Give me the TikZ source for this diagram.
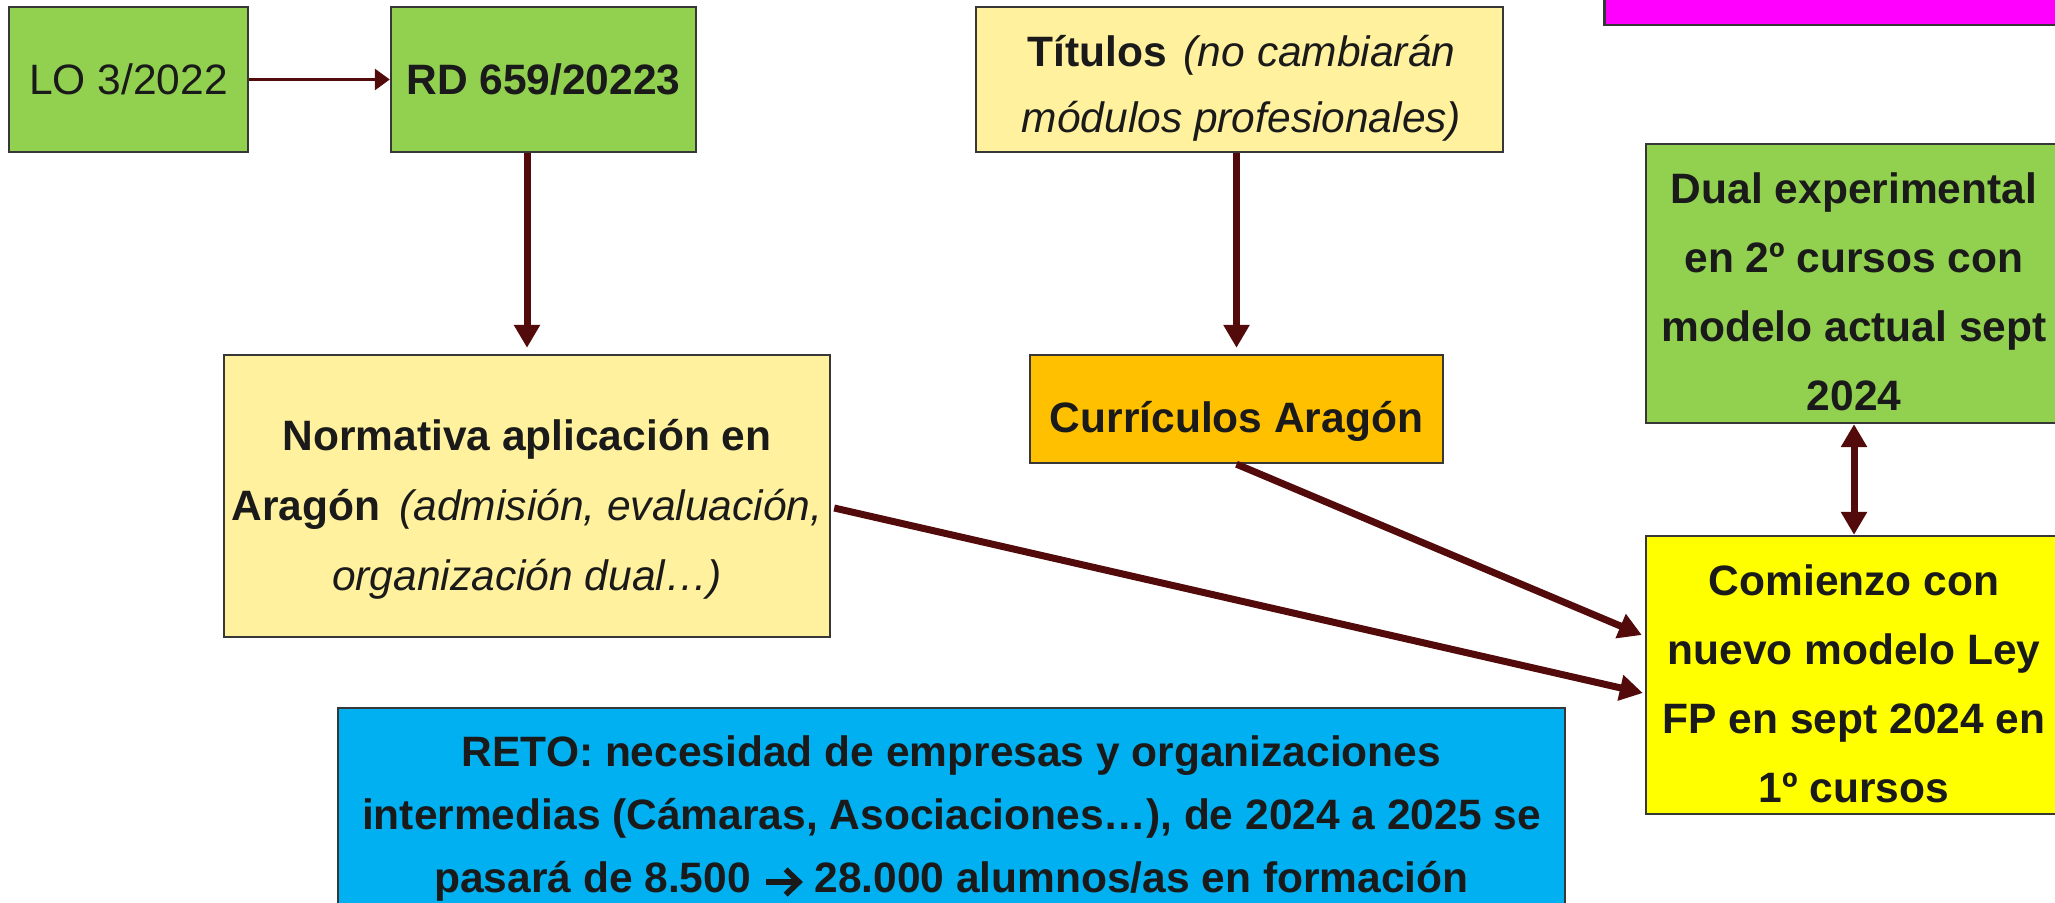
\documentclass[tikz,border=0pt]{standalone}
\usepackage{fontspec}
\setmainfont{Liberation Sans}
\usetikzlibrary{arrows.meta,calc}
\definecolor{grn}{HTML}{92D050}
\definecolor{lyel}{RGB}{255,241,158}
\definecolor{orng}{HTML}{FFC000}
\definecolor{yel}{HTML}{FFFF00}
\definecolor{blu}{HTML}{00B0F0}
\definecolor{mag}{HTML}{FF00FF}
\definecolor{arrc}{RGB}{82,10,10}
\definecolor{bordc}{RGB}{55,55,55}
\definecolor{txtc}{RGB}{26,26,26}
\newcommand{\bigarrow}{\tikz[baseline=0pt,x=1pt,y=1pt]{\draw[draw=txtc,line width=2.8pt] (0,5.5) -- (15,5.5); \draw[draw=txtc,line width=2.8pt,line join=miter,miter limit=10] (9.6,11.8) -- (16.2,5.5) -- (9.6,-0.8);}}
\begin{document}
\begin{tikzpicture}[x=0.5pt,y=-0.5pt,
  box/.style={draw=bordc, line width=1.2pt, inner sep=0pt},
  txt/.style={align=center, text=txtc, inner sep=0pt},
  fs/.style={font=\fontsize{21.25}{#1}\selectfont},
  conn/.style={draw=arrc, line width=3.5pt, -{Triangle[length=11.5pt,width=12.5pt]}},
  dconn/.style={draw=arrc, line width=3.5pt, {Triangle[length=11.5pt,width=12.5pt]}-{Triangle[length=11.5pt,width=12.5pt]}},
  connthin/.style={draw=arrc, line width=1.5pt, -{Triangle[length=7.5pt,width=10.5pt]}}]
\useasboundingbox (0,0) rectangle (2055,903);
\clip (0,0) rectangle (2055,903);

% boxes
\node[box, fill=grn, minimum width=119.5pt, minimum height=72.5pt] (lo) at (128.5,79.5) {};
\node[box, fill=grn, minimum width=152.5pt, minimum height=72.5pt] (rd) at (543.5,79.5) {};
\node[box, fill=lyel, minimum width=263.5pt, minimum height=72.5pt] (tit) at (1239.5,79.5) {};
\node[box, fill=mag, minimum width=233.5pt, minimum height=32.5pt] (mag) at (1838,-7.5) {};
\node[box, fill=grn, minimum width=208pt, minimum height=139.5pt] (dual) at (1854,283.5) {};
\node[box, fill=yel, minimum width=208pt, minimum height=139pt] (com) at (1854,675) {};
\node[box, fill=lyel, minimum width=303pt, minimum height=141pt] (norm) at (527,496) {};
\node[box, fill=orng, minimum width=206.5pt, minimum height=54pt] (cur) at (1236.5,409) {};
\node[box, fill=blu, minimum width=613.5pt, minimum height=106pt] (reto) at (951.5,814) {};

% texts
\node[txt, fs=34] (lot) at (lo) {LO 3/2022};
\node[txt, fs=34] (rdt) at (rd) {\bfseries RD 659/20223};
\node[txt, fs=32.75] (titt) at ($(tit)+(2,9)$)
  {\textbf{Títulos}\hspace{0.4em}\textit{(no cambiarán}\\ \textit{módulos profesionales)}};
\node[txt, fs=34.5] (dualt) at ($(dual)+(0,8)$)
  {\bfseries Dual experimental\\ \bfseries en 2º cursos con\\ \bfseries modelo actual sept\\ \bfseries 2024};
\node[txt, fs=34.5] (comt) at ($(com)+(0,9)$)
  {\bfseries Comienzo con\\ \bfseries nuevo modelo Ley\\ \bfseries FP en sept 2024 en\\ \bfseries 1º cursos};
\node[txt, fs=35] (normt) at ($(norm)+(0,13)$)
  {\textbf{Normativa aplicación en}\\ \textbf{Aragón}\hspace{0.45em}\textit{(admisión, evaluación,}\\ \textit{organización dual…)}};
\node[txt, fs=34] (curt) at ($(cur)+(0,12)$) {\bfseries Currículos Aragón};
\node[txt, fs=31.5] (retot) at ($(reto)+(0,5)$)
  {\bfseries RETO: necesidad de empresas y organizaciones\\
   \bfseries intermedias (Cámaras, Asociaciones…), de 2024 a 2025 se\\
   \bfseries pasará de 8.500\hspace{0.3em}\bigarrow\hspace{0.3em}28.000 alumnos/as en formación};

% connectors
\draw[connthin] (lo.east) -- (rd.west);
\draw[conn, shorten >=3pt] (norm.north |- rd.south) -- (norm.north);
\draw[conn, shorten >=3pt] (cur.north |- tit.south) -- (cur.north);
\draw[conn] (cur.south) -- ($(com.west)+(-3,-40)$);
\draw[conn] ($(norm.east)+(3,12)$) -- ($(com.west)+(-2,18)$);
\draw[dconn] (dual.south) -- (com.north);
\end{tikzpicture}
\end{document}
